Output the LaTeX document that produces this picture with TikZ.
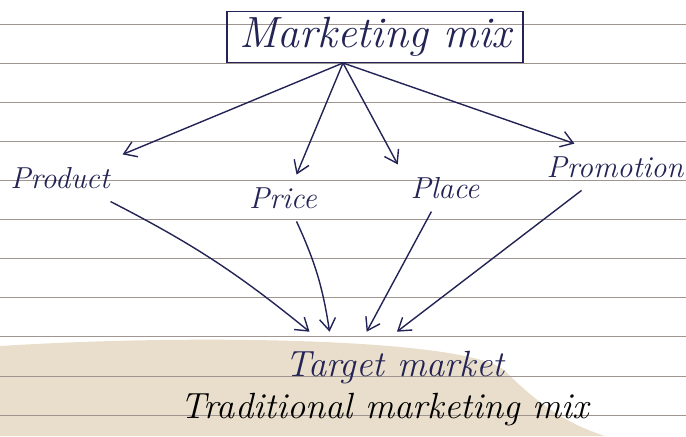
\documentclass[tikz,border=0pt]{standalone}
\usetikzlibrary{arrows.meta}
\definecolor{ink}{RGB}{35,35,85}
\definecolor{paperline}{RGB}{160,150,145}
\definecolor{stain}{RGB}{220,205,175}

\begin{document}
\begin{tikzpicture}[>={Straight Barb[length=2.4mm,width=3.2mm]},font=\itshape]
\useasboundingbox (0,0) rectangle (13.72,8.72);
% notebook paper
\fill[stain,opacity=0.65] (0,0)--(0,1.8) .. controls (4,2.05) and (9.4,1.95) .. (10.1,1.3)
  .. controls (10.7,0.7) and (11.3,0.25) .. (12.1,0)--cycle;
\foreach \i in {0,...,10}
  \draw[paperline,thin] (0,0.42+0.782*\i)--(13.72,0.42+0.782*\i);
\node[draw=ink,thick,minimum width=5.92cm,minimum height=1cm,text=ink,font=\Huge\itshape] (mix) at (7.5,7.98) {Marketing mix};
\coordinate (hub) at (6.86,7.46);
\node[text=ink,font=\LARGE\itshape,outer sep=4pt] (product) at (1.2,5.16) {Product};
\node[text=ink,font=\LARGE\itshape,outer sep=4pt] (price) at (5.66,4.76) {Price};
\node[text=ink,font=\LARGE\itshape,outer sep=4pt] (place) at (8.9,4.96) {Place};
\node[text=ink,font=\LARGE\itshape,outer sep=4pt] (promotion) at (12.3,5.38) {Promotion};
\node[text=ink,font=\huge\itshape,outer sep=8pt] (target) at (7.9,1.36) {Target market};
\node[font=\huge\itshape] (title) at (7.7,0.52) {Traditional marketing mix};
% mix to the four Ps
\draw[->,ink,thick] (hub)--(product.north east);
\draw[->,ink,thick] (hub)--(price.60);
\draw[->,ink,thick] (hub)--(place.north west);
\draw[->,ink,thick] (hub)--(promotion.150);
% four Ps to target market
\draw[->,ink,thick] (product.-25) to[bend left=6] (target.157);
\draw[->,ink,thick] (price.-60) to[bend left=8] (target.151);
\draw[->,ink,thick] (place.-120)--(target.128);
\draw[->,ink,thick] (promotion.-145)--(target.87);
\end{tikzpicture}
\end{document}
